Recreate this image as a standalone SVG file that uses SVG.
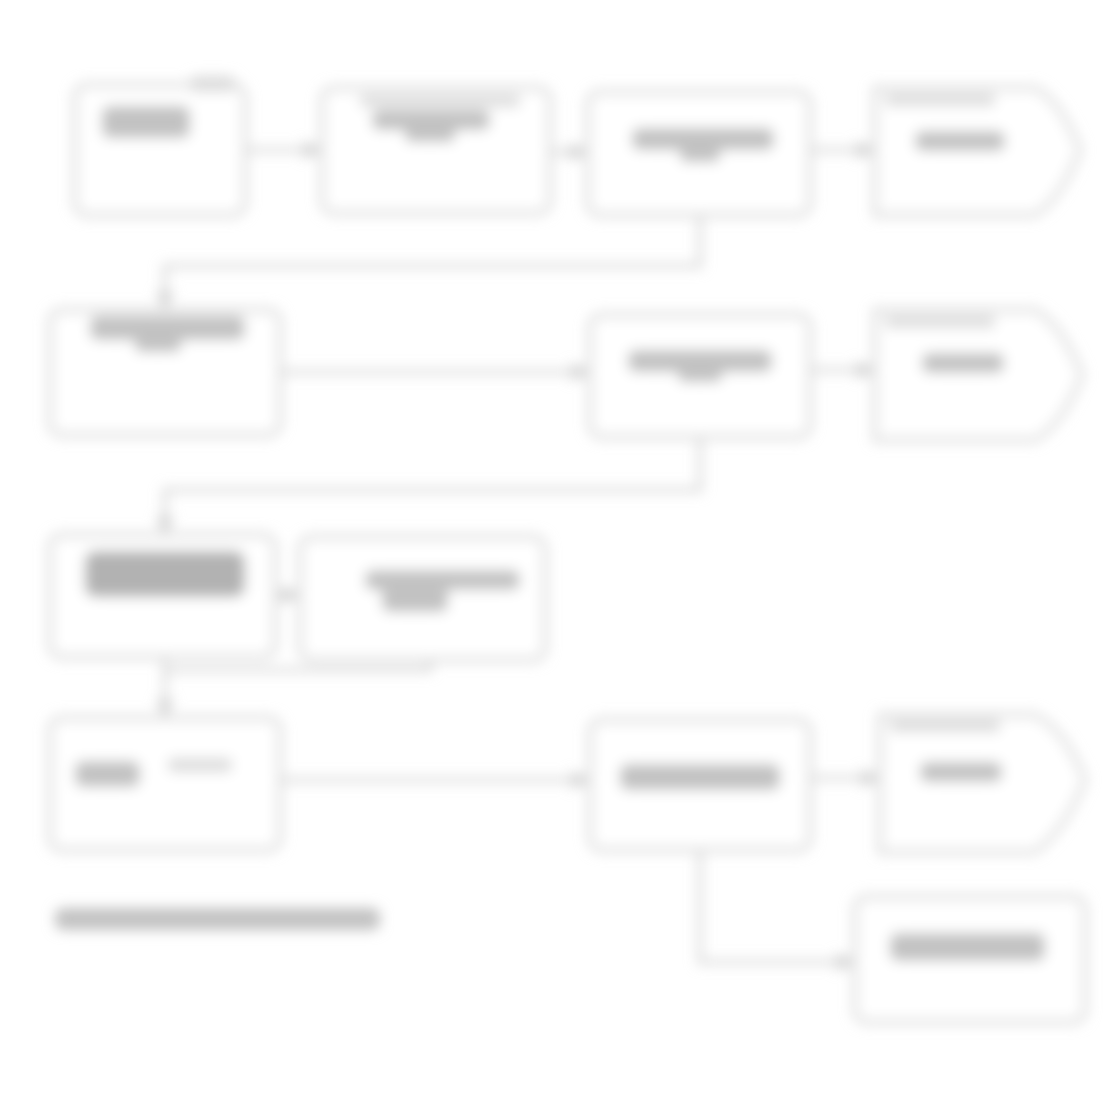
<svg xmlns="http://www.w3.org/2000/svg" width="1119" height="1096" viewBox="0 0 1119 1096">
<defs>
<filter id="soft" x="-5%" y="-5%" width="110%" height="110%"><feGaussianBlur stdDeviation="6.5"/></filter>
<marker id="ah" viewBox="0 0 10 10" refX="9" refY="5" markerWidth="4" markerHeight="4" orient="auto"><path d="M0,0 L10,5 L0,10 z" fill="#cfcfcf"/></marker>
</defs>
<style>
.box{fill:#ffffff;stroke:#d4d4d4;stroke-width:4.5}
.ink{fill:#c2c2c2}
.ink2{fill:#dcdcdc}
.ink3{fill:#b2b2b2}
.con{fill:none;stroke:#d4d4d4;stroke-width:4.5}
</style>
<rect width="1119" height="1096" fill="#ffffff"/>
<g filter="url(#soft)">
<g id="connectors">
<path class="con" d="M245,150 H320" marker-end="url(#ah)"/>
<path class="con" d="M550,152 H586" marker-end="url(#ah)"/>
<path class="con" d="M810,150 H873" marker-end="url(#ah)"/>
<path class="con" d="M700,215 V266 H165 V308" marker-end="url(#ah)"/>
<path class="con" d="M280,372 H588" marker-end="url(#ah)"/>
<path class="con" d="M810,370 H873" marker-end="url(#ah)"/>
<path class="con" d="M700,437 V490 H165 V533" marker-end="url(#ah)"/>
<path class="con" d="M275,595 H298" marker-end="url(#ah)"/>
<path class="con" d="M430,660 V670 H165"/>
<path class="con" d="M165,657 V716" marker-end="url(#ah)"/>
<path class="con" d="M280,780 H588" marker-end="url(#ah)"/>
<path class="con" d="M810,778 H878" marker-end="url(#ah)"/>
<path class="con" d="M700,852 V962 H853" marker-end="url(#ah)"/>
</g>
<g id="nA"><rect class="box" x="75" y="85" width="170" height="130" rx="12"/><rect class="ink" x="102" y="106" width="88" height="32" rx="8"/><rect class="ink2" x="190" y="76" width="45" height="16" rx="6"/></g>
<g id="nB"><rect class="box" x="322" y="88" width="228" height="125" rx="12"/><rect class="ink2" x="360" y="95" width="160" height="12" rx="4"/><rect class="ink" x="372" y="110" width="118" height="20" rx="8"/><rect class="ink" x="405" y="126" width="50" height="16" rx="6"/></g>
<g id="nC"><rect class="box" x="588" y="92" width="222" height="123" rx="12"/><rect class="ink" x="632" y="128" width="142" height="22" rx="8"/><rect class="ink" x="680" y="146" width="40" height="16" rx="6"/></g>
<g id="nD"><path class="box" d="M875,88 H1035 Q1060,100 1080,150 Q1060,200 1035,215 H875 Z"/><rect class="ink2" x="885" y="94" width="110" height="12" rx="4"/><rect class="ink" x="915" y="131" width="90" height="20" rx="8"/></g>
<g id="nE"><rect class="box" x="50" y="310" width="230" height="125" rx="12"/><rect class="ink" x="90" y="316" width="155" height="24" rx="8"/><rect class="ink" x="135" y="336" width="46" height="16" rx="6"/></g>
<g id="nF"><rect class="box" x="590" y="315" width="220" height="122" rx="12"/><rect class="ink" x="628" y="350" width="144" height="22" rx="8"/><rect class="ink" x="678" y="368" width="44" height="14" rx="6"/></g>
<g id="nG"><path class="box" d="M875,310 H1035 Q1062,325 1082,375 Q1062,425 1035,440 H875 Z"/><rect class="ink2" x="885" y="316" width="110" height="12" rx="4"/><rect class="ink" x="922" y="353" width="82" height="20" rx="8"/></g>
<g id="nH"><rect class="box" x="50" y="535" width="225" height="122" rx="12"/><rect class="ink3" x="85" y="551" width="160" height="46" rx="10"/></g>
<g id="nI"><rect class="box" x="300" y="537" width="245" height="123" rx="12"/><rect class="ink" x="365" y="570" width="155" height="20" rx="8"/><rect class="ink" x="382" y="586" width="66" height="26" rx="8"/></g>
<g id="nJ"><rect class="box" x="50" y="718" width="230" height="132" rx="12"/><rect class="ink" x="75" y="761" width="65" height="26" rx="8"/><rect class="ink2" x="168" y="758" width="64" height="14" rx="5"/></g>
<g id="nK"><rect class="box" x="590" y="720" width="220" height="130" rx="12"/><rect class="ink" x="620" y="764" width="160" height="26" rx="8"/></g>
<g id="nL"><path class="box" d="M880,715 H1035 Q1065,730 1085,780 Q1065,830 1035,852 H880 Z"/><rect class="ink2" x="890" y="720" width="110" height="12" rx="4"/><rect class="ink" x="920" y="762" width="82" height="20" rx="8"/></g>
<g id="nM"><rect class="box" x="855" y="897" width="230" height="125" rx="12"/><rect class="ink" x="890" y="933" width="155" height="28" rx="8"/></g>
<g id="caption"><rect class="ink" x="55" y="908" width="325" height="22" rx="8"/></g>
</g>
</svg>
